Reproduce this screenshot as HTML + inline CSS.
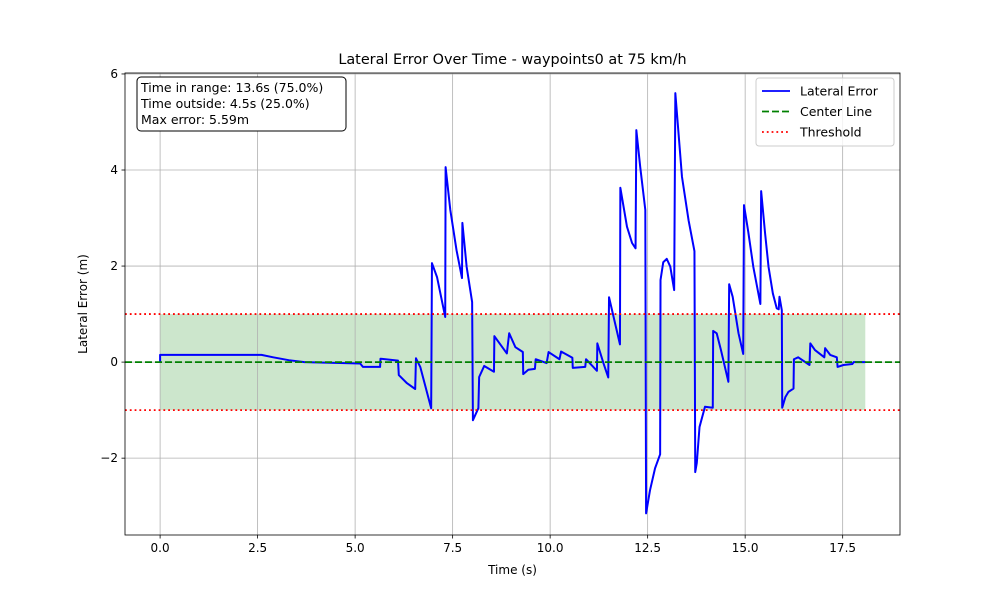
<!DOCTYPE html>
<html><head><meta charset="utf-8"><style>
body{margin:0;background:#fff;font-family:"Liberation Sans","DejaVu Sans",sans-serif}
svg text{font-family:"DejaVu Sans","Liberation Sans",sans-serif}
</style></head><body>
<svg id="chart" width="1000" height="600" xmlns="http://www.w3.org/2000/svg">
<rect width="1000" height="600" fill="#fff"/>
<g id="g"></g>
</svg>
<script>
const times=[0,0,2.6,2.9,3.3,3.7,5.13,5.2,5.64,5.65,6.1,6.12,6.33,6.54,6.56,6.67,6.95,6.97,7.1,7.31,7.32,7.44,7.6,7.74,7.75,7.86,8.0,8.02,8.16,8.18,8.31,8.56,8.57,8.89,8.95,9.11,9.3,9.31,9.44,9.61,9.63,9.91,9.96,10.24,10.28,10.57,10.58,10.9,10.92,11.2,11.21,11.37,11.49,11.51,11.79,11.8,11.97,12.1,12.19,12.21,12.31,12.44,12.46,12.56,12.69,12.82,12.83,12.9,12.99,13.08,13.18,13.21,13.38,13.55,13.7,13.72,13.76,13.83,13.97,14.17,14.18,14.27,14.38,14.57,14.59,14.68,14.83,14.95,14.97,15.08,15.21,15.39,15.41,15.51,15.6,15.71,15.81,15.86,15.88,15.94,15.95,16.03,16.11,16.24,16.25,16.36,16.65,16.67,16.79,17.03,17.05,17.18,17.35,17.37,17.52,17.75,17.78,18.08];
const errors=[0,0.15,0.15,0.1,0.04,0,-0.03,-0.1,-0.1,0.07,0.03,-0.27,-0.44,-0.56,0.08,-0.1,-0.96,2.06,1.77,0.94,4.06,3.17,2.33,1.75,2.9,1.98,1.25,-1.21,-0.96,-0.31,-0.08,-0.2,0.54,0.18,0.6,0.31,0.21,-0.25,-0.16,-0.14,0.06,-0.02,0.21,0.06,0.22,0.09,-0.12,-0.1,0.06,-0.18,0.39,-0.03,-0.32,1.35,0.37,3.63,2.82,2.48,2.37,4.83,4.06,3.17,-3.15,-2.67,-2.21,-1.92,1.71,2.08,2.15,1.99,1.5,5.6,3.86,2.95,2.31,-2.29,-2.1,-1.35,-0.93,-0.95,0.65,0.6,0.25,-0.41,1.62,1.36,0.6,0.17,3.27,2.71,1.98,1.21,3.56,2.69,1.98,1.43,1.12,1.1,1.36,1.08,-0.95,-0.73,-0.62,-0.55,0.06,0.1,-0.06,0.39,0.25,0.1,0.29,0.15,0.1,-0.1,-0.06,-0.04,0,0];
const xTicks=[0,2.5,5,7.5,10,12.5,15,17.5];
const xTickLabels=["0.0","2.5","5.0","7.5","10.0","12.5","15.0","17.5"];
const yTicks=[-2,0,2,4,6];
const yTickLabels=["\u22122","0","2","4","6"];
const threshold=[1];
const L=125,R=900,T=73,B=535,X0=-0.9,X1=18.97,Y0=-3.6,Y1=6.02;
const sx=v=>L+(v-X0)/(X1-X0)*(R-L), sy=v=>B-(v-Y0)/(Y1-Y0)*(B-T);
const g=document.getElementById('g'),NS='http://www.w3.org/2000/svg';
function mk(tag,a,txt){const e=document.createElementNS(NS,tag);for(const k in a)e.setAttribute(k,a[k]);if(txt!==undefined)e.textContent=txt;g.appendChild(e);return e;}
let e;
e=mk('rect',{x:L,y:T,width:R-L,height:B-T,fill:'#fff'});


const tEnd=times[times.length-1],th=threshold[0];
e=mk('rect',{x:sx(0),y:sy(th),width:sx(tEnd)-sx(0),height:sy(-th)-sy(th),fill:'#008000','fill-opacity':0.2});


xTicks.forEach((t,i)=>{
 e=mk('line',{x1:sx(t),x2:sx(t),y1:T,y2:B,stroke:'#b0b0b0','stroke-width':0.8});
 
 
 mk('line',{x1:sx(t),x2:sx(t),y1:B,y2:B+3.5,stroke:'#000','stroke-width':0.8});
 e=mk('text',{x:sx(t),y:B+17,'font-size':12,'text-anchor':'middle'},xTickLabels[i]);
 
 
});
yTicks.forEach((v,i)=>{
 e=mk('line',{x1:L,x2:R,y1:sy(v),y2:sy(v),stroke:'#b0b0b0','stroke-width':0.8});
 
 
 mk('line',{x1:L-3.5,x2:L,y1:sy(v),y2:sy(v),stroke:'#000','stroke-width':0.8});
 e=mk('text',{x:L-7,y:sy(v)+4,'font-size':12,'text-anchor':'end'},yTickLabels[i]);
 
 
});
e=mk('polyline',{points:times.map((t,i)=>sx(t)+','+sy(errors[i])).join(' '),fill:'none',stroke:'#0000ff','stroke-width':2,'stroke-linejoin':'round'});


e=mk('line',{x1:L,x2:R,y1:sy(0),y2:sy(0),stroke:'#008000','stroke-width':1.8,'stroke-dasharray':'7,3'});


[th,-th].forEach(v=>{
 e=mk('line',{x1:L,x2:R,y1:sy(v),y2:sy(v),stroke:'#ff0000','stroke-width':1.8,'stroke-dasharray':'1.8,3'});
 
 
});
e=mk('rect',{x:L,y:T,width:R-L,height:B-T,fill:'none',stroke:'#000','stroke-width':0.8});


e=mk('text',{x:(L+R)/2,y:64,'font-size':14.4,'text-anchor':'middle'},'Lateral Error Over Time - waypoints0 at 75 km/h');


e=mk('text',{x:(L+R)/2,y:574,'font-size':12,'text-anchor':'middle'},'Time (s)');


e=mk('text',{x:87,y:304,'font-size':12,'text-anchor':'middle',transform:'rotate(-90 87 304)'},'Lateral Error (m)');


e=mk('rect',{x:137,y:77,width:209,height:54,rx:4,fill:'#fff',stroke:'#000','stroke-width':1});


['Time in range: 13.6s (75.0%)','Time outside: 4.5s (25.0%)','Max error: 5.59m'].forEach((s,i)=>{
 e=mk('text',{x:141,y:92+i*16,'font-size':12.5},s);
 
 
});
e=mk('rect',{x:756,y:78,width:138,height:68,rx:3,fill:'#fff','fill-opacity':0.8,stroke:'#ccc','stroke-width':1});


[['Lateral Error','#0000ff','none'],['Center Line','#008000','7,3'],['Threshold','#ff0000','1.8,3']].forEach((it,i)=>{
 const y=91+i*20.5;
 mk('line',{x1:762,x2:790,y1:y,y2:y,stroke:it[1],'stroke-width':1.8,'stroke-dasharray':it[2]});
 e=mk('text',{x:800,y:y+4.5,'font-size':12.5},it[0]);
 
 
});
</script>
</body></html>
